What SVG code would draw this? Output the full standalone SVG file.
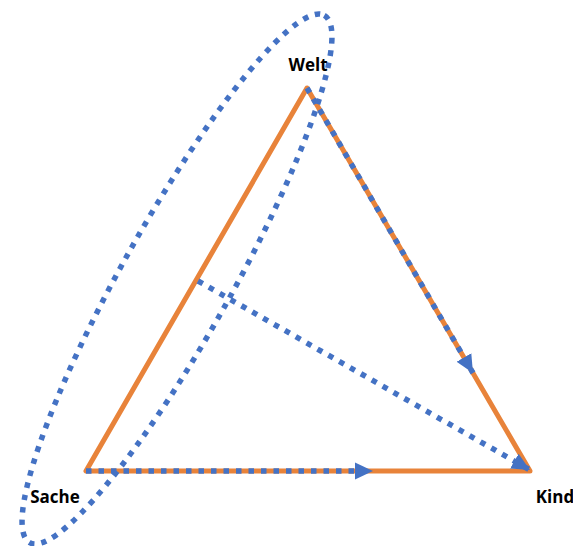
<svg xmlns="http://www.w3.org/2000/svg" width="573" height="546" viewBox="0 0 573 546">
<style>
.lbl{font-family:"Open Sans","Liberation Sans",sans-serif;font-weight:700;font-size:17px;fill:#000;text-anchor:middle}
.tri{fill:none;stroke:#E8833A;stroke-width:5;stroke-linejoin:round}
.dot{fill:none;stroke:#4472C4;stroke-width:5.5;stroke-dasharray:5.5 7}
</style>
<defs>
<marker id="arr" markerUnits="userSpaceOnUse" markerWidth="19" markerHeight="18" refX="18" refY="8.5" orient="auto" viewBox="0 0 19 17">
<path d="M0,0 L18,8.5 L0,17 Z" fill="#4472C4"/>
</marker>
</defs>
<g id="triangle">
<path class="tri" d="M307,88 L86,471 L530,471 Z"/>
</g>
<g id="connectors">
<path class="dot" d="M307,88 L473,373" marker-end="url(#arr)"/>
<path class="dot" d="M86,471 L373,471" marker-end="url(#arr)"/>
<path class="dot" d="M198,281 L530,470" marker-end="url(#arr)"/>
</g>
<g id="ellipse">
<ellipse class="dot" cx="177" cy="279" rx="302" ry="55" transform="rotate(-60.8 177 279)"/>
</g>
<g id="welt"><text class="lbl" x="308" y="71">Welt</text></g>
<g id="sache"><text class="lbl" x="55" y="503">Sache</text></g>
<g id="kind"><text class="lbl" x="555" y="503">Kind</text></g>
</svg>
